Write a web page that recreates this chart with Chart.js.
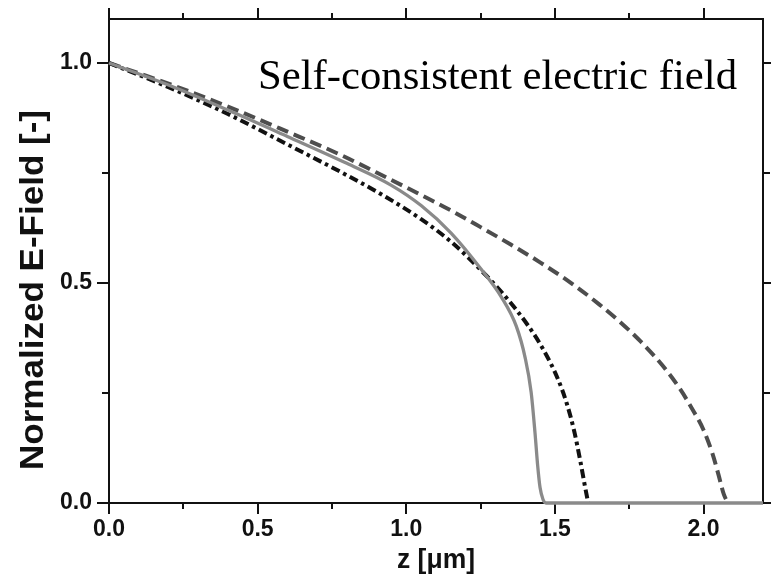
<!DOCTYPE html>
<html>
<head>
<meta charset="utf-8">
<script src="https://cdn.jsdelivr.net/npm/chart.js@4/dist/chart.umd.min.js"></script>
<style>
  html, body { margin: 0; padding: 0; background: #fff; }
  #wrap { width: 771px; height: 574px; }
</style>
</head>
<body>
<div id="wrap"><canvas id="c" width="771" height="574"></canvas></div>
<script>
// Depth z in micrometres and normalized field for each profile
const zSolid   = [0, 0.2, 0.4, 0.6, 0.8, 0.95, 1.05, 1.15, 1.25, 1.32, 1.37, 1.40, 1.42, 1.433, 1.442, 1.45, 1.46, 1.47, 2.20];
const eSolid   = [1.000, 0.950, 0.893, 0.833, 0.772, 0.722, 0.676, 0.614, 0.533, 0.468, 0.402, 0.330, 0.252, 0.160, 0.085, 0.035, 0.008, 0.000, 0.000];

const zDashDot = [0, 0.2, 0.4, 0.6, 0.8, 0.92, 1.05, 1.15, 1.25, 1.33, 1.41, 1.46, 1.51, 1.54, 1.565, 1.585, 1.60, 1.612];
const eDashDot = [1.000, 0.945, 0.884, 0.815, 0.745, 0.700, 0.645, 0.594, 0.530, 0.472, 0.403, 0.350, 0.282, 0.226, 0.163, 0.097, 0.042, 0.000];

const zDashed  = [0, 0.2, 0.4, 0.6, 0.78, 0.9, 1.05, 1.15, 1.25, 1.35, 1.45, 1.55, 1.65, 1.72, 1.79, 1.86, 1.92, 1.96, 2.0, 2.03, 2.05, 2.068, 2.082];
const eDashed  = [1.000, 0.953, 0.901, 0.844, 0.791, 0.751, 0.700, 0.665, 0.627, 0.588, 0.547, 0.502, 0.451, 0.411, 0.366, 0.314, 0.260, 0.216, 0.166, 0.112, 0.065, 0.020, 0.000];

// Axis ticks
const xMajorTicks = [0, 0.5, 1.0, 1.5, 2.0];
const xMinorTicks = [0.25, 0.75, 1.25, 1.75];
const yMajorTicks = [0, 0.5, 1.0];
const yMinorTicks = [0.25, 0.75];

const xTitle = 'z [\u03bcm]';
const yTitle = 'Normalized E-Field [-]';
const annotation = 'Self-consistent electric field';

const pts = (xs, ys) => xs.map((x, i) => ({ x: x, y: ys[i] }));

// Draws text scaled horizontally so that it spans the given width
function fitText(ctx, text, font, width, x, y, align) {
  ctx.save();
  ctx.font = font;
  const w = ctx.measureText(text).width;
  const s = width / w;
  ctx.translate(x, y);
  ctx.scale(s, 1);
  ctx.textAlign = align;
  ctx.fillText(text, 0, 0);
  ctx.restore();
}

const framePlugin = {
  id: 'frame',
  beforeDatasetsDraw(chart) {
    const { ctx, chartArea: a, scales: { x, y } } = chart;
    ctx.save();
    ctx.strokeStyle = '#111';
    ctx.lineWidth = 2;
    ctx.lineCap = 'butt';
    ctx.strokeRect(a.left, a.top, a.right - a.left, a.bottom - a.top);
    ctx.beginPath();
    const tick = (len, vals, axis) => {
      vals.forEach(v => {
        if (axis === 'x') {
          const px = Math.round(x.getPixelForValue(v));
          ctx.moveTo(px, a.bottom); ctx.lineTo(px, a.bottom + len);
          ctx.moveTo(px, a.top); ctx.lineTo(px, a.top - len);
        } else {
          const py = Math.round(y.getPixelForValue(v));
          ctx.moveTo(a.left, py); ctx.lineTo(a.left - len, py);
          ctx.moveTo(a.right, py); ctx.lineTo(a.right + len, py);
        }
      });
    };
    tick(11, xMajorTicks, 'x');
    tick(6, xMinorTicks, 'x');
    tick(12, yMajorTicks, 'y');
    tick(7, yMinorTicks, 'y');
    ctx.stroke();
    ctx.restore();
  },
  afterDraw(chart) {
    const { ctx, chartArea: a } = chart;
    ctx.save();
    ctx.fillStyle = '#111';
    ctx.textBaseline = 'alphabetic';
    // x axis title
    fitText(ctx, xTitle, 'bold 27px "Liberation Sans", Arial, sans-serif', 78, (a.left + a.right) / 2, 568, 'center');
    // y axis title
    ctx.save();
    ctx.translate(43, 290);
    ctx.rotate(-Math.PI / 2);
    fitText(ctx, yTitle, 'bold 33px "Liberation Sans", Arial, sans-serif', 360, 0, 0, 'center');
    ctx.restore();
    // annotation
    ctx.fillStyle = '#000';
    fitText(ctx, annotation, '43px "Liberation Serif", "Times New Roman", serif', 479, 258, 89, 'left');
    ctx.restore();
  }
};

const tickFont = { family: '"Liberation Sans", Arial, sans-serif', size: 23, weight: 'bold' };

new Chart(document.getElementById('c'), {
  type: 'line',
  data: {
    datasets: [
      {
        label: 'solid',
        data: pts(zSolid, eSolid),
        borderColor: '#8a8a8a',
        borderWidth: 3.3,
        cubicInterpolationMode: 'monotone',
        pointRadius: 0,
        fill: false,
        clip: 6,
        order: 0
      },
      {
        label: 'dash-dot',
        data: pts(zDashDot, eDashDot),
        borderColor: '#111111',
        borderWidth: 4,
        borderDash: [9, 4, 3.5, 4],
        cubicInterpolationMode: 'monotone',
        pointRadius: 0,
        fill: false,
        clip: 6,
        order: 1
      },
      {
        label: 'dashed',
        data: pts(zDashed, eDashed),
        borderColor: '#4d4d4d',
        borderWidth: 4,
        borderDash: [12, 6],
        cubicInterpolationMode: 'monotone',
        pointRadius: 0,
        fill: false,
        clip: 6,
        order: 2
      }
    ]
  },
  options: {
    responsive: false,
    animation: false,
    events: [],
    layout: { padding: { left: 0, right: 8, top: 19, bottom: 0 } },
    plugins: { legend: { display: false }, tooltip: { enabled: false } },
    scales: {
      x: {
        type: 'linear',
        min: 0, max: 2.2,
        afterBuildTicks: s => { s.ticks = xMajorTicks.map(v => ({ value: v })); },
        afterFit: s => { s.height = 71; s.paddingLeft = 0; s.paddingRight = 0; },
        grid: { display: false, drawTicks: false },
        border: { display: false },
        ticks: { font: tickFont, color: '#111', padding: 13, maxRotation: 0, callback: v => Number(v).toFixed(1) }
      },
      y: {
        type: 'linear',
        min: 0, max: 1.1,
        afterBuildTicks: s => { s.ticks = yMajorTicks.map(v => ({ value: v })); },
        afterFit: s => { s.width = 109; s.paddingTop = 0; s.paddingBottom = 0; },
        grid: { display: false, drawTicks: false },
        border: { display: false },
        ticks: { font: tickFont, color: '#111', padding: 17, callback: v => Number(v).toFixed(1) }
      }
    }
  },
  plugins: [framePlugin]
});
</script>
</body>
</html>
